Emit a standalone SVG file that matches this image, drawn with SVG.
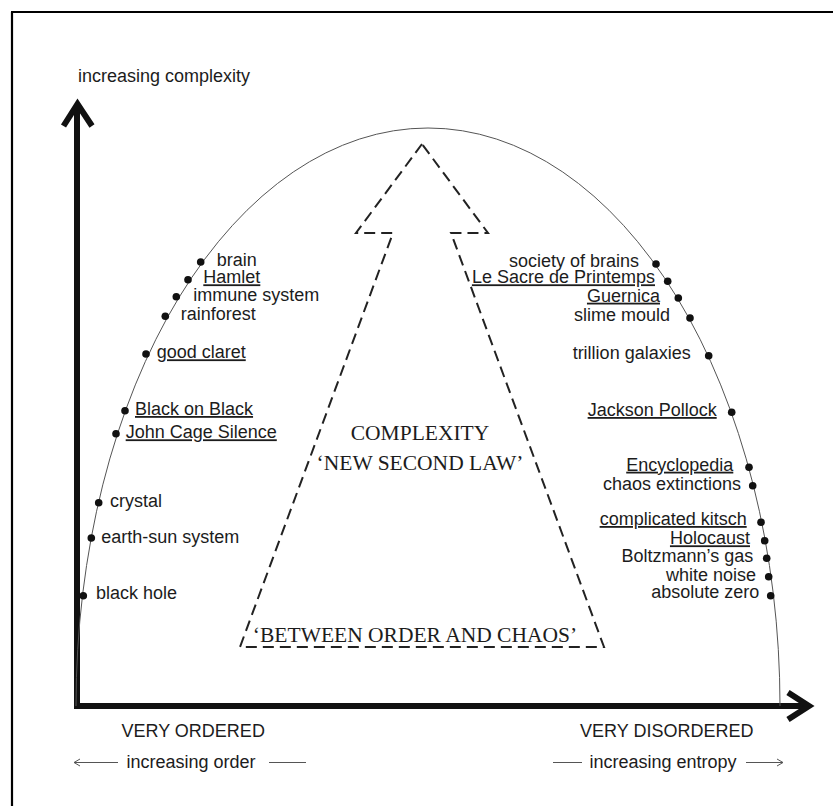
<svg xmlns="http://www.w3.org/2000/svg" width="833" height="806" viewBox="0 0 833 806">
  <style>
    .lbl { font-family: "Liberation Sans", Arial, sans-serif; font-size: 18px; fill: #1c1c1c; }
    .ul { text-decoration: underline; }
    .end { text-anchor: end; }
    .serif { font-family: "Liberation Serif", "Times New Roman", serif; font-size: 21.5px; fill: #1c1c1c; text-anchor: middle; }
    .dot { fill: #111; }
    .axis { fill: none; stroke: #111; stroke-width: 6; stroke-linejoin: miter; stroke-linecap: butt; }
    .thin { fill: none; stroke: #555; stroke-width: 1; }
    .dash { fill: none; stroke: #222; stroke-width: 2; stroke-dasharray: 11 6; }
  </style>
  <rect width="833" height="806" fill="#fff"/>

  <!-- page frame -->
  <path d="M11,12 H833 M12,12 V806" fill="none" stroke="#000" stroke-width="2.2"/>

  <g id="connectors">
    <!-- axes -->
    <path class="axis" d="M77,104 V706 H810"/>
    <polyline class="axis" points="63.5,126 77.5,104 92,126"/>
    <polyline class="axis" points="788,692.5 809,706 788,719.5"/>
    <!-- complexity curve -->
    <path class="thin" d="M76,706 A352,578 0 0 1 780,706" stroke="#444"/>
    <!-- dashed complexity arrow -->
    <polygon class="dash" points="422,144 356,233 393,233 240,647 604,647 451,233 488,233"/>
    <!-- order / entropy arrows -->
    <line class="thin" x1="74" y1="762.5" x2="118" y2="762.5"/>
    <polyline class="thin" points="80,759 74,762.5 80,766"/>
    <line class="thin" x1="269" y1="762.5" x2="306" y2="762.5"/>
    <line class="thin" x1="553" y1="762.5" x2="582" y2="762.5"/>
    <line class="thin" x1="746" y1="762.5" x2="783" y2="762.5"/>
    <polyline class="thin" points="777,759 783,762.5 777,766"/>
  </g>

  <!-- axis labels -->
  <g id="y-label"><text class="lbl" x="78" y="82">increasing complexity</text></g>
  <g id="x-left"><text class="lbl" x="121.5" y="737">VERY ORDERED</text>
    <text class="lbl" x="126.5" y="768">increasing order</text></g>
  <g id="x-right"><text class="lbl end" x="753.5" y="737">VERY DISORDERED</text>
    <text class="lbl end" x="736.5" y="768">increasing entropy</text></g>

  <!-- central arrow captions -->
  <g id="complexity-arrow">
    <text class="serif" x="420" y="440">COMPLEXITY</text>
    <text class="serif" x="420" y="470">‘NEW SECOND LAW’</text>
    <text class="serif" x="415" y="641.5">‘BETWEEN ORDER AND CHAOS’</text>
  </g>

  <!-- ordered side -->
  <g id="brain"><circle class="dot" cx="200.7" cy="262" r="3.8"/><text class="lbl" x="216.7" y="266">brain</text></g>
  <g id="hamlet"><circle class="dot" cx="188" cy="279.7" r="3.8"/><text class="lbl ul" x="203.3" y="283.3">Hamlet</text></g>
  <g id="immune-system"><circle class="dot" cx="176.3" cy="296.7" r="3.8"/><text class="lbl" x="193.3" y="300.7">immune system</text></g>
  <g id="rainforest"><circle class="dot" cx="165.3" cy="316.3" r="3.8"/><text class="lbl" x="180.7" y="320">rainforest</text></g>
  <g id="good-claret"><circle class="dot" cx="146" cy="354" r="3.8"/><text class="lbl ul" x="156.7" y="358.3">good claret</text></g>
  <g id="black-on-black"><circle class="dot" cx="125" cy="410.7" r="3.8"/><text class="lbl ul" x="135" y="415">Black on Black</text></g>
  <g id="john-cage"><circle class="dot" cx="116" cy="433.7" r="3.8"/><text class="lbl ul" x="125.7" y="438.3">John Cage Silence</text></g>
  <g id="crystal"><circle class="dot" cx="98.7" cy="502.7" r="3.8"/><text class="lbl" x="110" y="507.3">crystal</text></g>
  <g id="earth-sun"><circle class="dot" cx="91.3" cy="538" r="3.8"/><text class="lbl" x="101.3" y="542.7">earth-sun system</text></g>
  <g id="black-hole"><circle class="dot" cx="83.3" cy="595.7" r="3.8"/><text class="lbl" x="96" y="599.3">black hole</text></g>

  <!-- disordered side -->
  <g id="society-of-brains"><circle class="dot" cx="656" cy="264" r="3.8"/><text class="lbl end" x="639" y="266.7">society of brains</text></g>
  <g id="le-sacre"><circle class="dot" cx="667.7" cy="281.3" r="3.8"/><text class="lbl ul end" x="655" y="283.3">Le Sacre de Printemps</text></g>
  <g id="guernica"><circle class="dot" cx="678.3" cy="298" r="3.8"/><text class="lbl ul end" x="660" y="301.7">Guernica</text></g>
  <g id="slime-mould"><circle class="dot" cx="690" cy="318" r="3.8"/><text class="lbl end" x="670" y="321">slime mould</text></g>
  <g id="trillion-galaxies"><circle class="dot" cx="708.7" cy="355.7" r="3.8"/><text class="lbl end" x="690.7" y="359.3">trillion galaxies</text></g>
  <g id="jackson-pollock"><circle class="dot" cx="731.7" cy="412.3" r="3.8"/><text class="lbl ul end" x="716.7" y="416">Jackson Pollock</text></g>
  <g id="encyclopedia"><circle class="dot" cx="749" cy="467.3" r="3.8"/><text class="lbl ul end" x="733.3" y="470.7">Encyclopedia</text></g>
  <g id="chaos-extinctions"><circle class="dot" cx="752.7" cy="485.7" r="3.8"/><text class="lbl end" x="741" y="490">chaos extinctions</text></g>
  <g id="complicated-kitsch"><circle class="dot" cx="761" cy="522.3" r="3.8"/><text class="lbl ul end" x="746.7" y="525">complicated kitsch</text></g>
  <g id="holocaust"><circle class="dot" cx="764.7" cy="540.7" r="3.8"/><text class="lbl ul end" x="750" y="544.3">Holocaust</text></g>
  <g id="boltzmann-gas"><circle class="dot" cx="766.7" cy="558.3" r="3.8"/><text class="lbl end" x="753.3" y="562.3">Boltzmann’s gas</text></g>
  <g id="white-noise"><circle class="dot" cx="768.7" cy="576.7" r="3.8"/><text class="lbl end" x="756" y="580.7">white noise</text></g>
  <g id="absolute-zero"><circle class="dot" cx="770.7" cy="595.7" r="3.8"/><text class="lbl end" x="759.3" y="598.3">absolute zero</text></g>
</svg>
